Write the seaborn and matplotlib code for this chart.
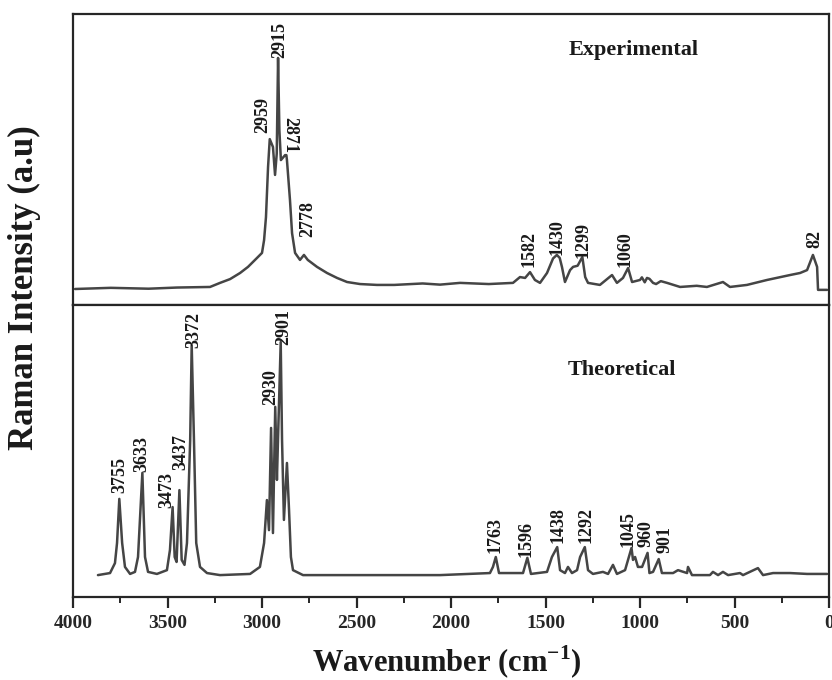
import matplotlib
matplotlib.use("Agg")
import matplotlib.pyplot as plt
from matplotlib.ticker import MultipleLocator
import seaborn as sns
import pandas as pd

# ---------------- data ----------------
exp_wn = [3989, 3800, 3600, 3450, 3275, 3222, 3169, 3116, 3074, 3026, 3000, 2989,
          2979, 2968, 2959, 2942, 2931, 2922, 2915, 2908, 2900, 2878, 2871, 2868,
          2852, 2841, 2825, 2799, 2778, 2758, 2709, 2656, 2603, 2550, 2481, 2392,
          2300, 2150, 2058, 1952, 1800, 1672, 1635, 1608, 1582, 1556, 1529, 1492,
          1460, 1440, 1425, 1413, 1397, 1370, 1354, 1330, 1305, 1290, 1275, 1212,
          1148, 1122, 1090, 1063, 1042, 1000, 990, 975, 963, 950, 931, 915, 890,
          857, 788, 700, 646, 561, 524, 434, 328, 206, 153, 116, 85, 63, 58, 10]
exp_int = [5.5, 5.9, 5.6, 6.0, 6.2, 7.6, 8.9, 11.0, 13.1, 16.2, 17.9, 22.3,
           30.2, 47.4, 57.0, 54.3, 44.7, 52.0, 84.9, 60.0, 49.8, 51.5, 51.5, 49.8,
           36.1, 24.7, 17.9, 15.5, 17.2, 15.5, 13.1, 11.0, 9.3, 7.9, 7.2, 6.9,
           6.9, 7.4, 7.0, 7.6, 7.2, 7.6, 9.6, 9.3, 11.3, 8.6, 7.6, 11.0,
           16.0, 17.2, 16.2, 13.1, 7.9, 12.0, 13.1, 13.5, 16.5, 9.6, 7.6, 6.9,
           10.3, 7.6, 9.3, 12.7, 7.9, 8.6, 9.5, 7.8, 9.3, 9.0, 7.6, 7.2, 8.2,
           7.6, 6.2, 6.6, 6.2, 7.9, 6.2, 6.9, 8.6, 10.3, 11.0, 12.0, 17.2, 13.1,
           5.2, 5.2]

th_wn = [3868, 3804, 3778, 3767, 3755, 3740, 3725, 3698, 3672, 3656, 3633, 3619,
         3603, 3556, 3503, 3487, 3473, 3462, 3452, 3437, 3425, 3410, 3397, 3380,
         3372, 3360, 3348, 3328, 3291, 3222, 3063, 3011, 2989, 2974, 2963, 2952,
         2942, 2930, 2921, 2915, 2901, 2894, 2884, 2868, 2857, 2847, 2836, 2783,
         2058, 1794, 1778, 1763, 1746, 1619, 1596, 1577, 1492, 1466, 1438, 1423,
         1397, 1381, 1360, 1333, 1317, 1292, 1275, 1249, 1196, 1169, 1143, 1122,
         1079, 1045, 1037, 1026, 1011, 989, 960, 950, 931, 901, 884, 825, 799,
         751, 746, 725, 630, 614, 587, 561, 534, 471, 455, 376, 349, 296, 206,
         116, 10]
th_int = [7.5, 8.2, 11.6, 18.5, 33.6, 18.5, 10.3, 7.9, 8.6, 13.7, 42.5, 13.7,
          8.6, 7.9, 9.2, 16.1, 30.8, 13.7, 12.0, 36.6, 12.7, 11.0, 18.5, 53.8,
          86.3, 53.8, 18.5, 10.3, 8.2, 7.5, 7.9, 10.3, 18.5, 33.2, 22.9, 57.9,
          21.9, 65.1, 40.1, 54.8, 87.3, 53.8, 26.4, 45.9, 29.8, 13.7, 9.2, 7.5,
          7.5, 8.2, 10.3, 13.7, 8.2, 8.2, 13.4, 7.9, 8.6, 13.7, 17.1, 9.2,
          8.2, 10.3, 8.2, 9.2, 13.7, 17.1, 9.2, 7.9, 8.6, 7.9, 11.0, 7.9,
          9.2, 16.8, 12.7, 13.7, 10.3, 10.3, 15.1, 8.2, 8.6, 13.0, 8.2, 8.2, 9.2,
          8.2, 10.3, 7.5, 7.5, 8.6, 7.5, 8.6, 7.5, 8.2, 7.5, 9.9, 7.5, 8.2, 8.2,
          7.9, 7.9]

exp_labels = ["2959", "2915", "2871", "2778", "1582", "1430", "1299", "1060", "82"]
th_labels = ["3755", "3633", "3473", "3437", "3372", "2930", "2901",
             "1763", "1596", "1438", "1292", "1045", "960", "901"]
xticks = [4000, 3500, 3000, 2500, 2000, 1500, 1000, 500, 0]

# ---------------- layout (label anchor positions) ----------------
exp_lab_pos = [(2995, 59.1, 90), (2905, 84.9, 90), (2852, 52.2, -90), (2757, 23.4, 90),
               (1587, 13.1, 90), (1439, 17.2, 90), (1302, 16.2, 90), (1079, 13.1, 90),
               (74, 19.6, 90)]
th_lab_pos = [(3751, 35.6), (3635, 42.8), (3503, 30.5), (3429, 43.5), (3360, 85.3),
              (2952, 65.8), (2884, 86.3), (1767, 15.1), (1603, 13.7), (1434, 18.5),
              (1286, 18.5), (1066, 17.1), (966, 17.1), (866, 15.1)]

sns.set_style("white")
plt.rcParams["font.family"] = ["Liberation Serif", "DejaVu Serif"]
plt.rcParams["font.weight"] = "bold"
plt.rcParams["mathtext.fontset"] = "custom"
plt.rcParams["mathtext.rm"] = "Liberation Serif:bold"
plt.rcParams["mathtext.bf"] = "Liberation Serif:bold"

line_color = "#454545"
edge_color = "#262626"

fig = plt.figure(figsize=(8.32, 6.8), dpi=100)
L, R = 73 / 832, 829 / 832
ax1 = fig.add_axes([L, 1 - 305 / 680, R - L, (305 - 14) / 680])
ax2 = fig.add_axes([L, 1 - 597 / 680, R - L, (597 - 305) / 680], sharex=ax1)

df_exp = pd.DataFrame({"wn": exp_wn, "I": exp_int})
df_th = pd.DataFrame({"wn": th_wn, "I": th_int})
sns.lineplot(data=df_exp, x="wn", y="I", ax=ax1, color=line_color, lw=1.8,
             estimator=None, sort=True)
sns.lineplot(data=df_th, x="wn", y="I", ax=ax2, color=line_color, lw=1.8,
             estimator=None, sort=True)

for ax in (ax1, ax2):
    ax.set_xlim(4000, 0)
    ax.set_ylim(0, 100)
    ax.set_yticks([])
    ax.set_xlabel("")
    ax.set_ylabel("")
    for s in ax.spines.values():
        s.set_visible(True)
        s.set_linewidth(1.6)
        s.set_color(edge_color)

ax1.tick_params(axis="x", which="both", bottom=False, labelbottom=False)
ax2.set_xticks(xticks)
ax2.set_xticklabels([str(t) for t in xticks])
ax2.xaxis.set_minor_locator(MultipleLocator(250))
ax2.tick_params(axis="x", which="major", direction="out", length=8, width=1.6,
                color=edge_color, labelsize=14, pad=5, bottom=True)
ax2.tick_params(axis="x", which="minor", direction="out", length=4, width=1.4,
                color=edge_color, bottom=True)
for lab in ax2.get_xticklabels():
    lab.set_fontweight("bold")

for lab, (x, y, rot) in zip(exp_labels, exp_lab_pos):
    ax1.text(x, y, lab, rotation=rot, ha="center", va="bottom", fontsize=13,
             fontweight="bold", color="#1a1a1a")
for lab, (x, y) in zip(th_labels, th_lab_pos):
    ax2.text(x, y, lab, rotation=90, ha="center", va="bottom", fontsize=13,
             fontweight="bold", color="#1a1a1a")

ax1.text(1032, 87.6, "Experimental", ha="center", va="center", fontsize=16,
         fontweight="bold", color="#1a1a1a")
ax2.text(1095, 77.7, "Theoretical", ha="center", va="center", fontsize=16,
         fontweight="bold", color="#1a1a1a")

fig.text(24 / 832, 1 - 288 / 680, "Raman Intensity (a.u)", rotation=90,
         ha="center", va="center", fontsize=25, fontweight="bold", color="#1a1a1a")
fig.text(447 / 832, 1 - 662 / 680, r"Wavenumber (cm$^{\mathbf{-1}}$)",
         ha="center", va="center", fontsize=22, fontweight="bold", color="#1a1a1a")

fig.savefig("out.png", dpi=100)
